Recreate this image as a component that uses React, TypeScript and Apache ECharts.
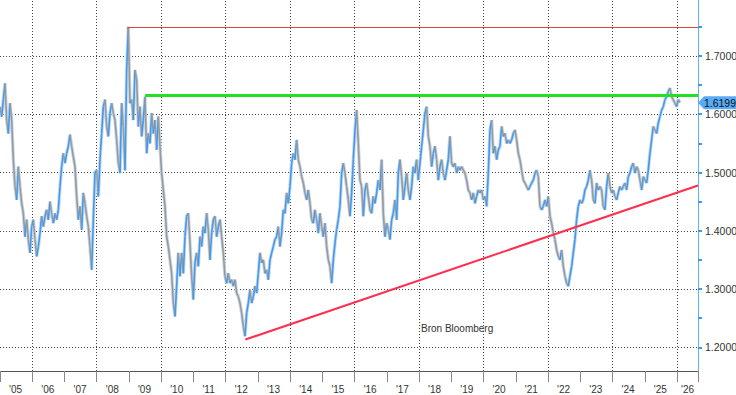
import React, { useEffect, useRef } from "react";
import * as echarts from "echarts";

// Price readings (regularly sampled through time), split by period
const prices2005 = [
  1.613, 1.596, 1.625, 1.653, 1.590, 1.567, 1.619, 1.590, 1.522, 1.476, 1.453, 1.510,
  1.476, 1.447, 1.430, 1.390, 1.419, 1.385, 1.362, 1.407, 1.419, 1.385, 1.356, 1.373,
  1.396, 1.425, 1.407, 1.425, 1.436, 1.419, 1.450, 1.430, 1.413, 1.430, 1.419, 1.436,
  1.476, 1.510, 1.533, 1.516, 1.533, 1.545, 1.565, 1.545, 1.527, 1.510, 1.459, 1.419,
  1.442, 1.402, 1.465, 1.447, 1.425, 1.407, 1.373, 1.333, 1.419, 1.499, 1.504, 1.459,
  1.522, 1.567, 1.613, 1.625, 1.579, 1.562, 1.602, 1.619, 1.602, 1.590, 1.556, 1.516,
];
const prices2008 = [
  1.499, 1.619, 1.579, 1.504, 1.676, 1.750, 1.619, 1.625, 1.590, 1.676, 1.659, 1.579,
  1.613, 1.562, 1.590, 1.630, 1.533, 1.567, 1.550, 1.602, 1.567, 1.590, 1.539, 1.596,
  1.545, 1.499, 1.470, 1.442, 1.390, 1.373, 1.350, 1.327, 1.276, 1.253, 1.305, 1.362,
  1.322, 1.362, 1.327, 1.390, 1.425, 1.430, 1.379, 1.322, 1.282, 1.345, 1.362, 1.339,
  1.390, 1.373, 1.407, 1.396, 1.430, 1.402, 1.350, 1.396, 1.419, 1.425, 1.390, 1.407,
  1.419, 1.390, 1.362, 1.322, 1.310, 1.327, 1.310, 1.316, 1.305, 1.316, 1.293, 1.287,
];
const prices2012 = [
  1.276, 1.259, 1.236, 1.219, 1.259, 1.276, 1.299, 1.276, 1.287, 1.305, 1.293, 1.327,
  1.362, 1.345, 1.350, 1.327, 1.333, 1.316, 1.350, 1.362, 1.373, 1.385, 1.390, 1.407,
  1.373, 1.396, 1.436, 1.430, 1.465, 1.447, 1.476, 1.516, 1.533, 1.522, 1.556, 1.522,
  1.510, 1.493, 1.482, 1.465, 1.453, 1.470, 1.447, 1.419, 1.413, 1.436, 1.419, 1.396,
  1.430, 1.407, 1.390, 1.413, 1.373, 1.350, 1.339, 1.310, 1.350, 1.379, 1.402, 1.419,
  1.442, 1.499, 1.516, 1.499, 1.476, 1.453, 1.425, 1.465, 1.522, 1.573, 1.607, 1.550,
];
const prices2016 = [
  1.487, 1.476, 1.425, 1.470, 1.482, 1.459, 1.436, 1.430, 1.459, 1.447, 1.465, 1.487,
  1.470, 1.522, 1.430, 1.390, 1.413, 1.402, 1.385, 1.419, 1.430, 1.453, 1.419, 1.499,
  1.522, 1.493, 1.453, 1.476, 1.499, 1.470, 1.453, 1.476, 1.510, 1.499, 1.522, 1.487,
  1.516, 1.545, 1.573, 1.602, 1.613, 1.562, 1.545, 1.510, 1.533, 1.545, 1.522, 1.487,
  1.510, 1.522, 1.499, 1.487, 1.504, 1.522, 1.562, 1.516, 1.510, 1.516, 1.499, 1.510,
  1.504, 1.510, 1.504, 1.499, 1.487, 1.470, 1.465, 1.453, 1.465, 1.447, 1.459, 1.470,
];
const prices2019 = [
  1.465, 1.470, 1.453, 1.459, 1.442, 1.499, 1.573, 1.590, 1.533, 1.545, 1.522, 1.539,
  1.545, 1.579, 1.562, 1.567, 1.550, 1.556, 1.550, 1.556, 1.567, 1.573, 1.556, 1.533,
  1.522, 1.504, 1.487, 1.482, 1.476, 1.470, 1.476, 1.482, 1.487, 1.499, 1.504, 1.493,
  1.442, 1.436, 1.442, 1.453, 1.442, 1.459, 1.425, 1.413, 1.396, 1.385, 1.367, 1.356,
  1.350, 1.367, 1.339, 1.322, 1.310, 1.305, 1.322, 1.339, 1.362, 1.385, 1.419, 1.442,
  1.453, 1.447, 1.453, 1.470, 1.476, 1.487, 1.504, 1.487, 1.453, 1.447, 1.482, 1.470,
];
const prices2023 = [
  1.476, 1.470, 1.442, 1.436, 1.476, 1.499, 1.476, 1.465, 1.470, 1.459, 1.453, 1.465,
  1.476, 1.470, 1.476, 1.482, 1.470, 1.493, 1.499, 1.510, 1.516, 1.499, 1.510, 1.504,
  1.487, 1.470, 1.493, 1.487, 1.482, 1.504, 1.533, 1.556, 1.579, 1.573, 1.567, 1.585,
  1.596, 1.607, 1.613, 1.625, 1.630, 1.639, 1.645, 1.630, 1.625, 1.619, 1.613, 1.625,
  1.6199,
];

const firstDate = 2005.0;
const lastDate = 2026.09;
const lastPrice = 1.6199;

const axisStart = 2005;
const axisEnd = 2026.65;
const priceMin = 1.1593;
const priceMax = 1.7961;

const priceLevels = [1.2, 1.3, 1.4, 1.5, 1.6, 1.7];
const priceTicks = [1.2, 1.25, 1.3, 1.35, 1.4, 1.45, 1.5, 1.55, 1.6, 1.65, 1.7, 1.75];
const gridYears = [2006, 2008, 2010, 2012, 2014, 2016, 2018, 2020, 2022, 2024, 2026];

const topLevel = { from: 2008.95, value: 1.75 };
const greenLevel = { from: 2009.5, value: 1.6325 };
const trendFrom = [2012.61, 1.2133];
const trendTo = [2026.65, 1.4777];

const sourceText = "Bron Bloomberg";

const FONT = "'Liberation Sans', Arial, sans-serif";
const UP = "#3f9af0";
const DOWN = "#999999";

export default function App() {
  const ref = useRef<HTMLDivElement>(null);

  useEffect(() => {
    if (!ref.current) return;
    const chart = echarts.init(ref.current, null, { renderer: "svg" });

    const prices = [
      ...prices2005,
      ...prices2008,
      ...prices2012,
      ...prices2016,
      ...prices2019,
      ...prices2023,
    ];
    const n = prices.length;
    const dates = prices.map((_, i) => firstDate + (i * (lastDate - firstDate)) / (n - 1));
    const data = prices.map((p, i) => [dates[i], p]);
    const moves = prices.slice(1).map((p, k) => [dates[k + 1], p, dates[k], prices[k]]);

    const dotted = { color: "#444", type: [1, 2] as any, width: 1 };

    chart.setOption({
      animation: false,
      backgroundColor: "#ffffff",
      grid: { left: 0, right: 38, top: 0, bottom: 24, containLabel: false, outerBoundsMode: "none" },
      xAxis: {
        type: "value",
        min: axisStart,
        max: axisEnd,
        interval: 1,
        splitLine: { show: false },
        axisLine: { show: true, lineStyle: { color: "#555", width: 1 } },
        axisTick: { show: true, length: 11, lineStyle: { color: "#888", width: 1 } },
        axisLabel: {
          margin: 12,
          align: "left",
          showMinLabel: true,
          showMaxLabel: true,
          hideOverlap: false,
          formatter: (v: number) => {
            if (Math.abs(v - Math.round(v)) > 1e-6) return "";
            const yy = String(Math.round(v) % 100).padStart(2, "0");
            return Math.round(v) === 2026 ? `{b|'${yy}}` : `{a|'${yy}}`;
          },
          rich: {
            a: { padding: [0, 0, 0, 9], fontSize: 10, color: "#333", fontFamily: FONT, lineHeight: 12 },
            b: { padding: [0, 0, 0, 4], fontSize: 10, color: "#333", fontFamily: FONT, lineHeight: 12 },
          },
        },
      },
      yAxis: {
        type: "value",
        position: "right",
        min: priceMin,
        max: priceMax,
        scale: true,
        splitLine: { show: false },
        axisLine: { show: true, lineStyle: { color: "#62b0f5", width: 1 } },
        axisTick: {
          show: true,
          customValues: priceTicks,
          length: 4,
          lineStyle: { color: "#3d98ee", width: 2 },
        },
        axisLabel: {
          customValues: priceLevels,
          formatter: (v: number) => v.toFixed(4),
          margin: 7,
          color: "#333",
          fontSize: 10.5,
          fontFamily: FONT,
        },
      },
      graphic: [
        {
          type: "text",
          left: 421,
          top: 323,
          style: { text: sourceText, fill: "#333", font: `10px ${FONT}` },
        },
      ],
      series: [
        {
          type: "line",
          data,
          showSymbol: false,
          z: 2,
          lineStyle: { color: "#c9d9ea", width: 3.4 },
          markLine: {
            silent: true,
            symbol: "none",
            z: 1,
            label: { show: false },
            lineStyle: dotted,
            data: [
              ...gridYears.map((y) => ({ xAxis: y })),
              ...priceLevels.map((p) => ({ yAxis: p })),
            ],
          },
        },
        {
          type: "custom",
          data: moves,
          encode: { x: 0, y: 1 },
          z: 3,
          renderItem: (_params: any, api: any) => {
            const a = api.coord([api.value(2), api.value(3)]);
            const b = api.coord([api.value(0), api.value(1)]);
            const up = api.value(1) >= api.value(3);
            return {
              type: "line",
              shape: { x1: a[0], y1: a[1], x2: b[0], y2: b[1] },
              style: { stroke: up ? UP : DOWN, lineWidth: 1.6 },
            };
          },
        },
        {
          type: "line",
          data: [],
          z: 4,
          markLine: {
            silent: true,
            symbol: "none",
            z: 6,
            label: { show: false },
            data: [
              [
                { coord: [topLevel.from, topLevel.value], lineStyle: { color: "#e04040", width: 1, type: "solid" } },
                { coord: [axisEnd, topLevel.value] },
              ],
              [
                { coord: [greenLevel.from, greenLevel.value], lineStyle: { color: "#22e022", width: 3, type: "solid" } },
                { coord: [axisEnd, greenLevel.value] },
              ],
              [
                { coord: trendFrom, lineStyle: { color: "#ff2d4f", width: 2, type: "solid" } },
                { coord: trendTo },
              ],
            ],
          },
        },
        {
          type: "line",
          data: [],
          clip: false,
          z: 10,
          markPoint: {
            silent: true,
            symbol: "path://M0,6L6,0L40,0L40,12L6,12Z",
            symbolSize: [40, 13],
            symbolKeepAspect: false,
            symbolOffset: [20, 0],
            itemStyle: { color: "#58acf7" },
            label: {
              show: true,
              position: "inside",
              offset: [2, 0],
              color: "#111",
              fontSize: 10.5,
              fontFamily: FONT,
              formatter: () => lastPrice.toFixed(4),
            },
            data: [{ coord: [axisEnd, lastPrice] }],
          },
        },
      ],
    });

    return () => chart.dispose();
  }, []);

  return (
    <div
      ref={ref}
      style={{ position: "absolute", left: 0, top: 0, width: 736, height: 395, background: "#fff" }}
    />
  );
}
